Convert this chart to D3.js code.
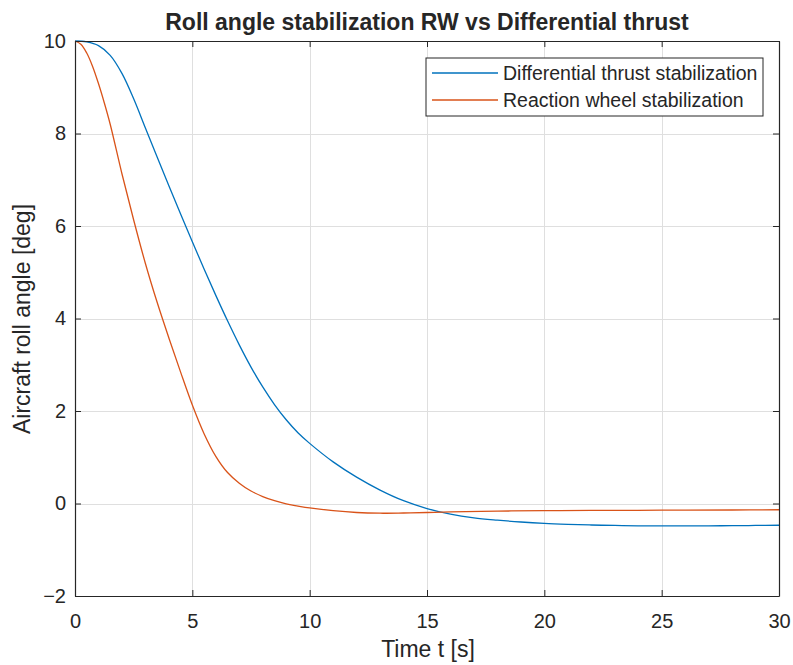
<!DOCTYPE html>
<html>
<head>
<meta charset="utf-8">
<script src="https://cdn.jsdelivr.net/npm/d3@7"></script>
<style>
  body { margin: 0; background: #fff; }
  text { font-family: "Liberation Sans", Arial, sans-serif; fill: #262626; }
</style>
</head>
<body>
<svg id="chart" width="793" height="665"></svg>
<script>
// Time samples and roll angle (deg)
const thrustT = [0, 0.5, 1, 1.5, 2, 2.5, 3, 3.5, 4, 4.5, 5, 5.5, 6, 6.5, 7, 7.5, 8, 8.5, 9, 9.5, 10,
  11, 12, 13, 14, 15, 16, 17, 18, 19, 20, 21, 22, 23, 24, 25, 26, 27, 28, 29, 30];
const thrustRoll = [10, 9.98, 9.9, 9.69, 9.3, 8.75, 8.12, 7.49, 6.87, 6.26, 5.66, 5.07, 4.5, 3.95, 3.43, 2.95, 2.52, 2.14, 1.81, 1.53, 1.3,
  0.9, 0.57, 0.29, 0.06, -0.11, -0.23, -0.31, -0.36, -0.4, -0.43, -0.45, -0.465, -0.475, -0.482, -0.485, -0.485, -0.483, -0.48, -0.475, -0.47];

const wheelT = [0, 0.25, 0.5, 0.75, 1, 1.25, 1.5, 2, 2.5, 3, 3.5, 4, 4.5, 5, 5.5, 6, 6.5, 7, 7.5, 8, 8.5, 9, 9.5, 10,
  11, 12, 13, 14, 15, 16, 18, 20, 22, 25, 28, 30];
const wheelRoll = [10, 9.93, 9.74, 9.45, 9.08, 8.66, 8.2, 7.13, 6.13, 5.19, 4.35, 3.58, 2.84, 2.13, 1.51, 1.02, 0.67, 0.44, 0.27, 0.15, 0.06, -0.01, -0.055, -0.095,
  -0.155, -0.195, -0.21, -0.205, -0.195, -0.18, -0.165, -0.155, -0.15, -0.145, -0.14, -0.135];

const xTicks = [0, 5, 10, 15, 20, 25, 30];
const yTicks = [-2, 0, 2, 4, 6, 8, 10];
const seriesNames = ['Differential thrust stabilization', 'Reaction wheel stabilization'];
const seriesColors = ['#0072BD', '#D95319'];

const svg = d3.select('#chart');
const margin = {left: 75, right: 14, top: 41, bottom: 69};
const W = 793, H = 665;
const x = d3.scaleLinear().domain([0, 30]).range([margin.left, W - margin.right]);
const y = d3.scaleLinear().domain([-2, 10]).range([H - margin.bottom, margin.top]);

// grid
const grid = svg.append('g').attr('stroke', '#dfdfdf').attr('stroke-width', 1);
grid.selectAll('.gx').data(xTicks.slice(1, -1)).join('line')
  .attr('x1', d => Math.round(x(d)) + 0.5).attr('x2', d => Math.round(x(d)) + 0.5)
  .attr('y1', y(-2)).attr('y2', y(10));
grid.selectAll('.gy').data(yTicks.slice(1, -1)).join('line')
  .attr('y1', d => Math.round(y(d)) + 0.5).attr('y2', d => Math.round(y(d)) + 0.5)
  .attr('x1', x(0)).attr('x2', x(30));

// lines
const series = [
  thrustT.map((t, i) => [t, thrustRoll[i]]),
  wheelT.map((t, i) => [t, wheelRoll[i]]),
];
const line = d3.line().x(d => x(d[0])).y(d => y(d[1])).curve(d3.curveCatmullRom.alpha(0.5));
svg.selectAll('.series').data(series).join('path')
  .attr('fill', 'none')
  .attr('stroke', (d, i) => seriesColors[i])
  .attr('stroke-width', 1.3)
  .attr('d', line);

// axes (ticks inward, mirrored on box)
const tickLen = 6;
const fmt = d3.format('d');
const axBottom = svg.append('g').attr('transform', `translate(0,${y(-2)})`)
  .call(d3.axisBottom(x).tickValues(xTicks).tickSizeInner(-tickLen).tickSizeOuter(0).tickPadding(18).tickFormat(fmt));
const axTop = svg.append('g').attr('transform', `translate(0,${y(10)})`)
  .call(d3.axisTop(x).tickValues(xTicks).tickSizeInner(-tickLen).tickSizeOuter(0).tickFormat(''));
const axLeft = svg.append('g').attr('transform', `translate(${x(0)},0)`)
  .call(d3.axisLeft(y).tickValues(yTicks).tickSizeInner(-tickLen).tickSizeOuter(0).tickPadding(9).tickFormat(fmt));
const axRight = svg.append('g').attr('transform', `translate(${x(30)},0)`)
  .call(d3.axisRight(y).tickValues(yTicks).tickSizeInner(-tickLen).tickSizeOuter(0).tickFormat(''));

[axBottom, axTop, axLeft, axRight].forEach(g => {
  g.select('.domain').attr('stroke', '#262626').attr('stroke-width', 1.2);
  g.selectAll('.tick line').attr('stroke', '#262626');
  g.selectAll('.tick text').attr('font-size', 20).attr('fill', '#262626')
    .attr('font-family', '"Liberation Sans", Arial, sans-serif');
});

// title and axis labels
svg.append('text').attr('x', 427).attr('y', 30).attr('text-anchor', 'middle')
  .attr('font-size', 23).attr('font-weight', 'bold')
  .text('Roll angle stabilization RW vs Differential thrust');
svg.append('text').attr('x', 428).attr('y', 657).attr('text-anchor', 'middle')
  .attr('font-size', 23).text('Time t [s]');
svg.append('text').attr('transform', 'translate(30,319) rotate(-90)').attr('text-anchor', 'middle')
  .attr('font-size', 23).text('Aircraft roll angle [deg]');

// legend
const legend = svg.append('g').attr('transform', 'translate(426,58)');
legend.append('rect').attr('width', 337).attr('height', 58)
  .attr('fill', '#fff').attr('stroke', '#262626').attr('stroke-width', 1);
const item = legend.selectAll('.item').data(seriesNames).join('g')
  .attr('transform', (d, i) => `translate(0,${15 + i * 27})`);
item.append('line').attr('x1', 6).attr('x2', 72)
  .attr('stroke', (d, i) => seriesColors[i]).attr('stroke-width', 1.3);
item.append('text').attr('x', 77).attr('dy', '0.35em').attr('font-size', 19.5).text(d => d);
</script>
</body>
</html>
